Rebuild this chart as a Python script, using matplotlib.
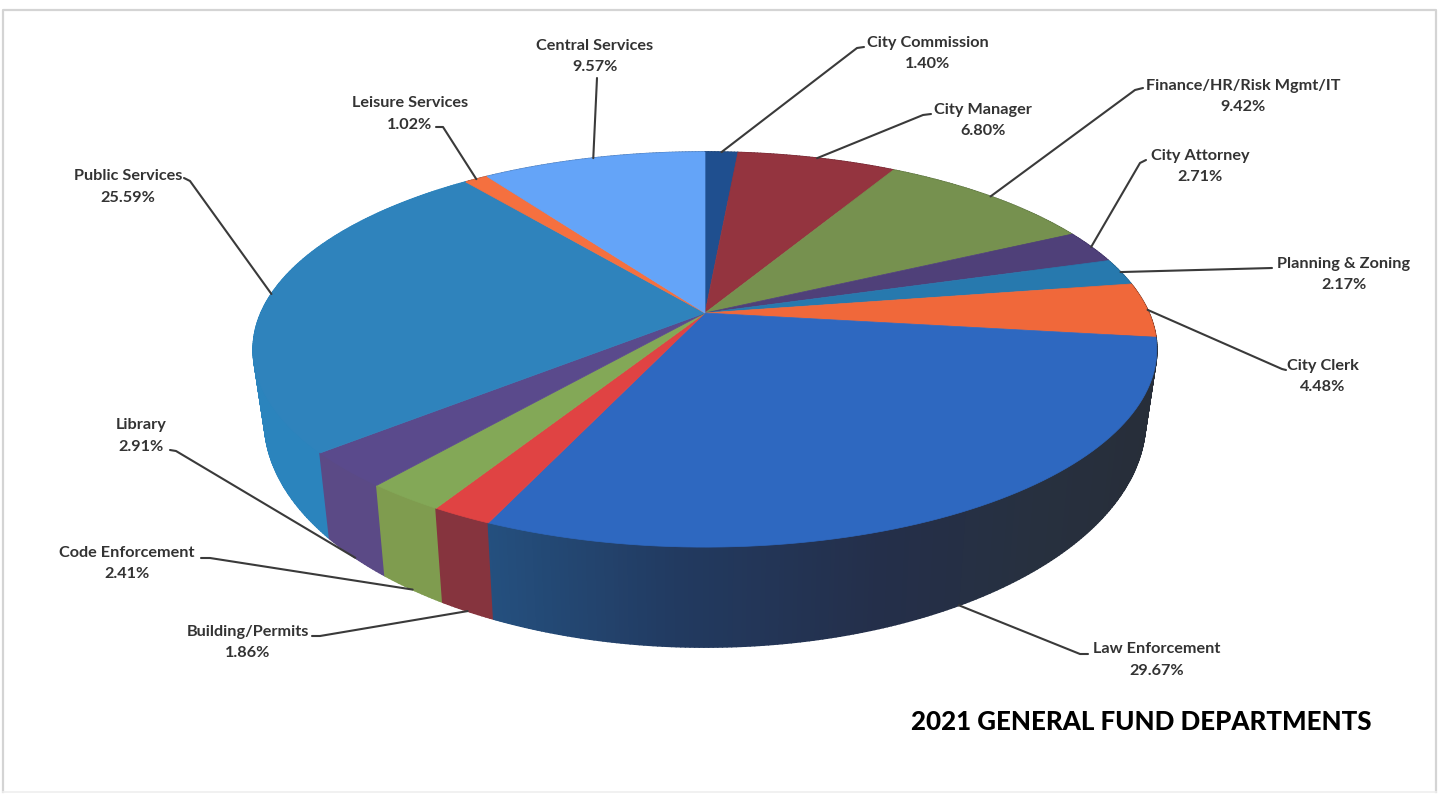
import numpy as np
import matplotlib
matplotlib.use('Agg')
import matplotlib.pyplot as plt
from matplotlib.collections import PolyCollection
from matplotlib.colors import to_rgb
from matplotlib.patches import Polygon

plt.rcParams['font.family'] = ['Lato', 'DejaVu Sans']

departments = ['City Commission', 'City Manager', 'Finance/HR/Risk Mgmt/IT', 'City Attorney',
               'Planning & Zoning', 'City Clerk', 'Law Enforcement', 'Building/Permits',
               'Code Enforcement', 'Library', 'Public Services', 'Leisure Services', 'Central Services']
shares = [1.40, 6.80, 9.42, 2.71, 2.17, 4.48, 29.67, 1.86, 2.41, 2.91, 25.59, 1.02, 9.57]

top_colors = ['#1f4f8f', '#94343f', '#76914f', '#4f4079', '#2779ae', '#f0683a', '#2e68c0',
              '#e04343', '#83a857', '#5a4a8c', '#2f83bc', '#f5703f', '#64a4f8']
side_colors = ['#1a3f70', '#702833', '#5a7040', '#3c3060', '#1e5c85', '#7a3520', '#24507f',
               '#86343e', '#7f9c4f', '#5b4a86', '#2b84bd', '#b05030', '#4a7ab8']

# law enforcement wall darkens from the front left round to the right
law_side_stops = ['#282e38', '#272e3a', '#27303f', '#242f4a', '#223a60', '#24507f']

# text centre, line heights and leader elbow for every label, in figure pixels
label_x = [928, 983, 1243, 1200, 1344, 1323, 1157, 248, 127, 141, 128, 410, 595]
label_y1 = [43, 110, 86, 156, 264, 366, 649, 632, 553, 425, 176, 103, 46]
label_y2 = [64, 131, 107, 177, 285, 387, 671, 653, 574, 447, 198, 125, 67]
elbows = [[(864, 47), (857, 48)], [(931, 114), (923, 115)], [(1143, 88), (1135, 90)],
          [(1146, 160), (1140, 163)], [(1272, 268)], [(1286, 370), (1282, 369)],
          [(1088, 654), (1080, 654)], [(312, 636), (320, 636)], [(201, 558), (210, 558)],
          [(170, 450), (176, 451)], [(184, 178), (190, 181)], [(436, 127), (443, 127)], [(597, 78)]]

# perspective of the tilted disc
cx, cy = 705, 313
rad_x, rad_y, persp = 444, 190.8, 0.185
base_x = 0.975
wall = 66.4


def rim(theta):
    # theta in degrees, clockwise from the back of the disc
    t = np.radians(theta)
    u, v = np.sin(t), np.cos(t)
    den = 1 + persp * v
    return cx + rad_x * u / den, cy - rad_y * v / den


def base_rim(theta):
    t = np.radians(theta)
    u, v = np.sin(t), np.cos(t)
    den = 1 + persp * v
    return cx + base_x * rad_x * u / den, cy - rad_y * v / den + wall / den ** 2


total = sum(shares)
edges = np.concatenate([[0], np.cumsum(shares)]) / total * 360
mids = (edges[:-1] + edges[1:]) / 2

fig = plt.figure(figsize=(14.43, 7.97), dpi=100)
ax = fig.add_axes([0, 0, 1, 1])
ax.set_xlim(0, 1443)
ax.set_ylim(797, 0)
ax.axis('off')

# chart frame, the bottom edge is much fainter
ax.plot([3, 3, 1436, 1436], [792, 10, 10, 792], color='#d4d4d4', lw=1.6)
ax.plot([3, 1436], [792, 792], color='#efefef', lw=1.2)

# outer wall as thin quads, back to front
quads, quad_colors, depth = [], [], []
for i in range(len(shares)):
    steps = np.arange(edges[i], edges[i + 1], 0.5)
    steps = np.append(steps, edges[i + 1])
    for a, b in zip(steps[:-1], steps[1:]):
        quads.append([rim(a), rim(b), base_rim(b), base_rim(a)])
        if departments[i] == 'Law Enforcement':
            f = ((a + b) / 2 - edges[i]) / (edges[i + 1] - edges[i])
            rgb = np.array([to_rgb(c) for c in law_side_stops])
            pos = np.linspace(0, 1, len(rgb))
            quad_colors.append([np.interp(f, pos, rgb[:, k]) for k in range(3)])
        else:
            quad_colors.append(to_rgb(side_colors[i]))
        depth.append(-np.cos(np.radians((a + b) / 2)))
order = np.argsort(depth)
ax.add_collection(PolyCollection([quads[j] for j in order],
                                 facecolors=[quad_colors[j] for j in order],
                                 edgecolors=[quad_colors[j] for j in order],
                                 linewidths=1.2, zorder=2))

# top face
for i in range(len(shares)):
    arc = np.linspace(edges[i], edges[i + 1], 80)
    xs, ys = rim(arc)
    pts = [(cx, cy)] + list(zip(xs, ys))
    ax.add_patch(Polygon(pts, closed=True, facecolor=top_colors[i], edgecolor=top_colors[i],
                         lw=0.5, zorder=3))

# leader lines and labels
for i, name in enumerate(departments):
    front = np.cos(np.radians(mids[i])) < -0.3
    anchor = base_rim(mids[i]) if front else rim(mids[i])
    pts = elbows[i] + [anchor]
    ax.plot([p[0] for p in pts], [p[1] for p in pts], color='#3a3a3a', lw=1.5, zorder=4,
            solid_capstyle='round')
    ax.text(label_x[i], label_y1[i], name, ha='center', va='center', fontsize=11.7,
            color='#333333', fontweight='bold', zorder=5)
    ax.text(label_x[i], label_y2[i], f'{shares[i]:.2f}%', ha='center', va='center', fontsize=11.7,
            color='#333333', fontweight='bold', zorder=5)

ax.text(1141, 722, '2021 GENERAL FUND DEPARTMENTS', ha='center', va='center', fontsize=18.6,
        fontweight='black', color='black', zorder=5)

fig.savefig('out.png', dpi=100)
